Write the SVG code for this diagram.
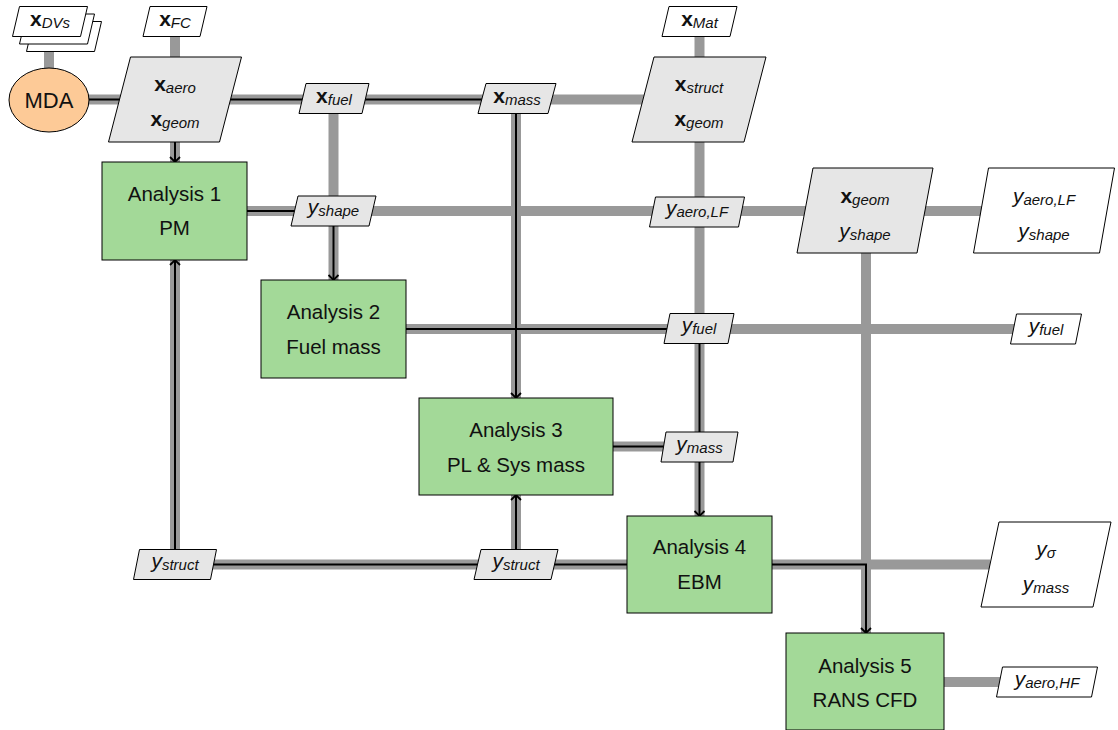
<svg xmlns="http://www.w3.org/2000/svg" width="1118" height="730" viewBox="0 0 1118 730">
<defs>
<style>
.g{stroke:#999999;stroke-width:10;fill:none;stroke-linecap:butt}
.k{stroke:#000;stroke-width:2;fill:none}
.ka{stroke:#000;stroke-width:2;fill:none;marker-end:url(#arr)}
.dat{fill:#e6e6e6;stroke:#000;stroke-width:1}
.out{fill:#ffffff;stroke:#000;stroke-width:1}
.fn{fill:#a3d998;stroke:#000;stroke-width:1}
.mda{fill:#fdca97;stroke:#000;stroke-width:1}
text{font-family:"Liberation Sans",Arial,sans-serif;font-size:20.5px;fill:#111;text-anchor:middle}
.b{font-weight:bold;font-size:21px}
.i{font-style:italic;font-size:21px}
.s{font-style:italic;font-size:15px}
</style>
<marker id="arr" markerUnits="userSpaceOnUse" markerWidth="14" markerHeight="14" viewBox="-8 -7 10 14" refX="0" refY="0" orient="auto">
<path d="M-5,-5 L0,0 L-5,5" stroke="#000" stroke-width="1.8" fill="none"/>
</marker>
</defs>

<g id="connectors">
<line class="g" x1="49" y1="44" x2="49" y2="70"/>
<line class="g" x1="175" y1="36" x2="175" y2="60"/>
<line class="g" x1="175" y1="140" x2="175" y2="162"/>
<line class="g" x1="175" y1="260" x2="175" y2="552"/>
<line class="g" x1="333.5" y1="112" x2="333.5" y2="280"/>
<line class="g" x1="516" y1="112" x2="516" y2="398"/>
<line class="g" x1="516" y1="495" x2="516" y2="552"/>
<line class="g" x1="699.5" y1="36" x2="699.5" y2="516"/>
<line class="g" x1="866" y1="250" x2="866" y2="633"/>
<line class="g" x1="86" y1="99.5" x2="660" y2="99.5"/>
<line class="g" x1="247" y1="211" x2="985" y2="211"/>
<line class="g" x1="406" y1="329" x2="1015" y2="329"/>
<line class="g" x1="613" y1="446.5" x2="670" y2="446.5"/>
<line class="g" x1="180" y1="564.5" x2="990" y2="564.5"/>
<line class="g" x1="944" y1="682" x2="1002" y2="682"/>
<line class="k" x1="88" y1="99.5" x2="517" y2="99.5"/>
<line class="ka" x1="175" y1="142" x2="175" y2="162"/>
<line class="k" x1="247" y1="211" x2="300" y2="211"/>
<line class="ka" x1="333.5" y1="226" x2="333.5" y2="280"/>
<line class="ka" x1="516" y1="113" x2="516" y2="398"/>
<line class="k" x1="406" y1="329" x2="680" y2="329"/>
<line class="ka" x1="699.5" y1="340" x2="699.5" y2="516"/>
<line class="k" x1="613" y1="446.5" x2="680" y2="446.5"/>
<line class="k" x1="175" y1="564.5" x2="627" y2="564.5"/>
<path class="ka" d="M772,564.5 H866 V633"/>
<line class="ka" x1="175" y1="560" x2="175" y2="260"/>
<line class="ka" x1="516" y1="560" x2="516" y2="495"/>
</g>

<g id="in_xDVs">
<polygon class="out" points="33.5,21.5 101.5,21.5 94.5,51.5 26.5,51.5"/>
<polygon class="out" points="26.5,14 94.5,14 87.5,44 19.5,44"/>
<polygon class="out" points="19.5,6.5 87.5,6.5 80.5,36.5 12.5,36.5"/>
<text x="50" y="26"><tspan class="b">x</tspan><tspan class="s" dy="2">DVs</tspan></text>
</g>

<g id="in_xFC">
<polygon class="out" points="150,6.5 207,6.5 200,36.5 143,36.5"/>
<text x="175" y="26"><tspan class="b">x</tspan><tspan class="s" dy="2">FC</tspan></text>
</g>

<g id="in_xMat">
<polygon class="out" points="669,6.5 737,6.5 730,36.5 662,36.5"/>
<text x="699.5" y="26"><tspan class="b">x</tspan><tspan class="s" dy="2">Mat</tspan></text>
</g>

<g id="MDA">
<ellipse class="mda" cx="49" cy="100" rx="40" ry="32"/>
<text x="49" y="107.5" style="font-size:22px">MDA</text>
</g>

<g id="d_xaero_xgeom">
<polygon class="dat" points="130.5,57 241.5,57 219.5,142 108.5,142"/>
<text x="175" y="91"><tspan class="b">x</tspan><tspan class="s" dy="2">aero</tspan></text>
<text x="175" y="126"><tspan class="b">x</tspan><tspan class="s" dy="2">geom</tspan></text>
</g>

<g id="d_xfuel">
<polygon class="dat" points="306,83.5 369,83.5 362,113.5 299,113.5"/>
<text x="334" y="102.5"><tspan class="b">x</tspan><tspan class="s" dy="2">fuel</tspan></text>
</g>

<g id="d_xmass">
<polygon class="dat" points="486,83.5 556,83.5 548,113.5 478,113.5"/>
<text x="517" y="102.5"><tspan class="b">x</tspan><tspan class="s" dy="2">mass</tspan></text>
</g>

<g id="d_xstruct_xgeom">
<polygon class="dat" points="654,57 766,57 744,142 632,142"/>
<text x="699" y="91"><tspan class="b">x</tspan><tspan class="s" dy="2">struct</tspan></text>
<text x="699" y="126"><tspan class="b">x</tspan><tspan class="s" dy="2">geom</tspan></text>
</g>

<g id="A1">
<rect class="fn" x="102" y="162" width="145" height="98"/>
<text x="174.5" y="201">Analysis 1</text>
<text x="174.5" y="235">PM</text>
</g>

<g id="d_yshape">
<polygon class="dat" points="298,196 376,196 369,226 291,226"/>
<text x="333.5" y="214"><tspan class="i">y</tspan><tspan class="s" dy="2">shape</tspan></text>
</g>

<g id="d_yaeroLF">
<polygon class="dat" points="655.5,197 744.5,197 738.5,227 649.5,227"/>
<text x="697" y="215"><tspan class="i">y</tspan><tspan class="s" dy="2">aero,LF</tspan></text>
</g>

<g id="d_xgeom_yshape">
<polygon class="dat" points="813,168 933,168 917,253 797,253"/>
<text x="865" y="203"><tspan class="b">x</tspan><tspan class="s" dy="2">geom</tspan></text>
<text x="865" y="238"><tspan class="i">y</tspan><tspan class="s" dy="2">shape</tspan></text>
</g>

<g id="out_yaeroLF_yshape">
<polygon class="out" points="988.5,168 1114.5,168 1099.5,253 973.5,253"/>
<text x="1044" y="203"><tspan class="i">y</tspan><tspan class="s" dy="2">aero,LF</tspan></text>
<text x="1044" y="238"><tspan class="i">y</tspan><tspan class="s" dy="2">shape</tspan></text>
</g>

<g id="A2">
<rect class="fn" x="261" y="280" width="145" height="98"/>
<text x="333.5" y="319">Analysis 2</text>
<text x="333.5" y="354">Fuel mass</text>
</g>

<g id="d_yfuel">
<polygon class="dat" points="670,313.5 734,313.5 728,343.5 664,343.5"/>
<text x="699" y="332"><tspan class="i">y</tspan><tspan class="s" dy="2">fuel</tspan></text>
</g>

<g id="out_yfuel">
<polygon class="out" points="1016.5,314 1081.5,314 1075.5,344 1010.5,344"/>
<text x="1046" y="332.5"><tspan class="i">y</tspan><tspan class="s" dy="2">fuel</tspan></text>
</g>

<g id="A3">
<rect class="fn" x="419" y="398" width="194" height="97"/>
<text x="516" y="437">Analysis 3</text>
<text x="516" y="472">PL &amp; Sys mass</text>
</g>

<g id="d_ymass">
<polygon class="dat" points="666,432 738,432 733,462 661,462"/>
<text x="699.5" y="450.5"><tspan class="i">y</tspan><tspan class="s" dy="2">mass</tspan></text>
</g>

<g id="d_ystruct_1">
<polygon class="dat" points="139.5,549.5 216.5,549.5 210.5,579.5 133.5,579.5"/>
<text x="175" y="568"><tspan class="i">y</tspan><tspan class="s" dy="2">struct</tspan></text>
</g>

<g id="d_ystruct_2">
<polygon class="dat" points="481,549.5 558,549.5 551,579.5 474,579.5"/>
<text x="516" y="568"><tspan class="i">y</tspan><tspan class="s" dy="2">struct</tspan></text>
</g>

<g id="A4">
<rect class="fn" x="627" y="516" width="145" height="97"/>
<text x="699.5" y="554">Analysis 4</text>
<text x="699.5" y="589">EBM</text>
</g>

<g id="out_ysigma_ymass">
<polygon class="out" points="999,522 1111,522 1093,607 981,607"/>
<text x="1046" y="556"><tspan class="i">y</tspan><tspan class="s" dy="2">σ</tspan></text>
<text x="1046" y="591"><tspan class="i">y</tspan><tspan class="s" dy="2">mass</tspan></text>
</g>

<g id="A5">
<rect class="fn" x="786" y="633" width="158" height="97"/>
<text x="865" y="673">Analysis 5</text>
<text x="865" y="707">RANS CFD</text>
</g>

<g id="out_yaeroHF">
<polygon class="out" points="1002.5,667 1097.5,667 1091.5,697 996.5,697"/>
<text x="1047" y="685.5"><tspan class="i">y</tspan><tspan class="s" dy="2">aero,HF</tspan></text>
</g>
</svg>
